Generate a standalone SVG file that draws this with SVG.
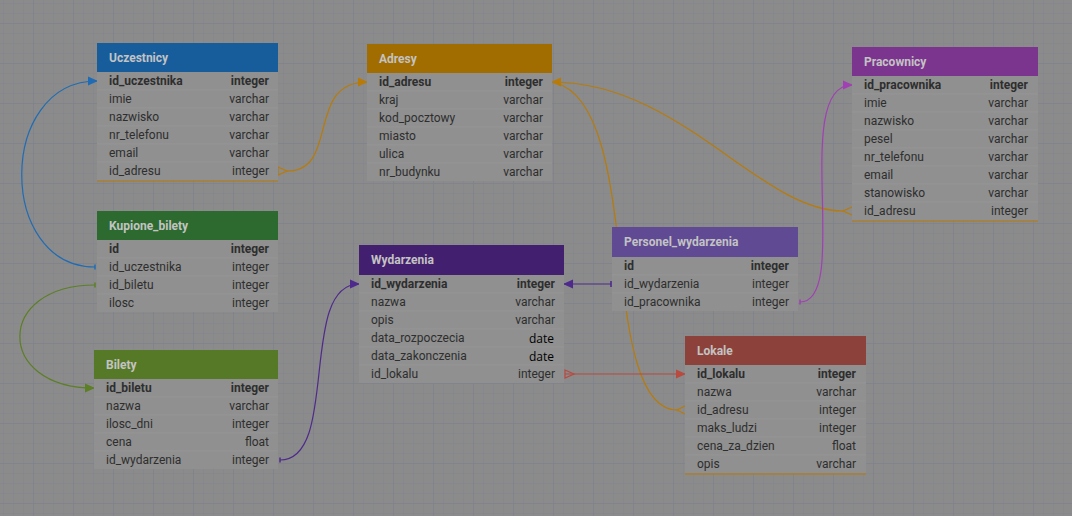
<svg xmlns="http://www.w3.org/2000/svg" width="1072" height="516" viewBox="0 0 1072 516">
<defs>
<pattern id="gmin" patternUnits="userSpaceOnUse" x="3" y="3" width="10" height="10">
<path d="M0 0V10M0 0H10" fill="none" stroke="#82858c" stroke-width="0.8"/>
</pattern>
<pattern id="gmaj" patternUnits="userSpaceOnUse" x="33" y="23" width="40" height="40">
<path d="M0 0V40M0 0H40" fill="none" stroke="#7b7f8a" stroke-width="1"/>
</pattern>
<marker id="aBlue" markerWidth="10" markerHeight="10" refX="9" refY="5" orient="auto" markerUnits="userSpaceOnUse"><path d="M0 0.5L10 5L0 9.5Z" fill="#1f6cb4"/></marker>
<marker id="aOr" markerWidth="10" markerHeight="10" refX="9" refY="5" orient="auto" markerUnits="userSpaceOnUse"><path d="M0 0.5L10 5L0 9.5Z" fill="#b87b08"/></marker>
<marker id="aGr" markerWidth="10" markerHeight="10" refX="9" refY="5" orient="auto" markerUnits="userSpaceOnUse"><path d="M0 0.5L10 5L0 9.5Z" fill="#5d7f25"/></marker>
<marker id="aPu" markerWidth="10" markerHeight="10" refX="9" refY="5" orient="auto" markerUnits="userSpaceOnUse"><path d="M0 0.5L10 5L0 9.5Z" fill="#4e2a8c"/></marker>
<marker id="aMa" markerWidth="10" markerHeight="10" refX="9" refY="5" orient="auto" markerUnits="userSpaceOnUse"><path d="M0 0.5L10 5L0 9.5Z" fill="#a23fb4"/></marker>
<marker id="aRe" markerWidth="10" markerHeight="10" refX="9" refY="5" orient="auto" markerUnits="userSpaceOnUse"><path d="M0 0.5L10 5L0 9.5Z" fill="#b84a40"/></marker>
<style>
.hd{font-family:Roboto,"Liberation Sans",sans-serif;font-size:12px;font-weight:bold;fill:#c3c3c3}
.nm{font-family:Roboto,"Liberation Sans",sans-serif;font-size:12px;fill:#2e2e2e}
.tp{font-family:Roboto,"Liberation Sans",sans-serif;font-size:12px;fill:#2e2e2e;text-anchor:end}
.pk{font-weight:bold}
.dt{font-family:"Open Sans","Liberation Sans",sans-serif;font-size:12px;fill:#000;text-anchor:end}
.body{fill:#909090}
.sep{stroke:#989898;stroke-width:0.8}
.bot{stroke:#b87b08;stroke-width:1}
.ln{fill:none;stroke-width:1.2}
</style>
</defs>
<rect width="1072" height="516" fill="#8b8b8b"/>
<rect width="1072" height="516" fill="url(#gmin)"/>
<rect width="1072" height="516" fill="url(#gmaj)"/>

<g id="connectors">
<!-- Kupione_bilety.id_uczestnika -> Uczestnicy.id_uczestnika -->
<path class="ln" stroke="#1f6cb4" d="M95 267C-3 267-3 81 97 81" marker-end="url(#aBlue)"/>
<path d="M95 264.5V269.5" stroke="#1f6cb4" stroke-width="1.5"/>
<!-- Kupione_bilety.id_biletu -> Bilety.id_biletu -->
<path class="ln" stroke="#5d7f25" d="M95 285C-5 285-5 388 94 388" marker-end="url(#aGr)"/>
<path d="M95 282.5V287.5" stroke="#5d7f25" stroke-width="1.5"/>
<!-- Uczestnicy.id_adresu -> Adresy.id_adresu -->
<path class="ln" stroke="#b87b08" d="M287 171C340 171 305 82 367 82" marker-end="url(#aOr)"/>
<path class="ln" stroke="#b87b08" d="M278 167L287 171L278 175Z"/>
<!-- Pracownicy.id_adresu -> Adresy.id_adresu -->
<path class="ln" stroke="#b87b08" d="M843 211C760 211 680 82 552 82" marker-end="url(#aOr)"/>
<path class="ln" stroke="#b87b08" d="M852 207L843 211L852 215"/>
<!-- Lokale.id_adresu -> Adresy.id_adresu -->
<path class="ln" stroke="#b87b08" d="M677 410C640 410 628 340 620 260C612 180 600 95 556 83"/>
<path class="ln" stroke="#b87b08" d="M685 406L677 410L685 414"/>
<!-- Bilety.id_wydarzenia -> Wydarzenia.id_wydarzenia -->
<path class="ln" stroke="#4e2a8c" d="M280 460C340 460 298 284 359 284" marker-end="url(#aPu)"/>
<path d="M280 457.5V462.5" stroke="#4e2a8c" stroke-width="1.5"/>
<!-- Personel_wydarzenia.id_wydarzenia -> Wydarzenia.id_wydarzenia -->
<path class="ln" stroke="#4e2a8c" stroke-width="1.6" d="M611 284H564" marker-end="url(#aPu)"/>
<path d="M611 281V287" stroke="#4e2a8c" stroke-width="1.6"/>
<!-- Personel_wydarzenia.id_pracownika -> Pracownicy.id_pracownika -->
<path class="ln" stroke="#a23fb4" d="M800 302C852 302 790 85 852 85" marker-end="url(#aMa)"/>
<path d="M800 299.5V304.5" stroke="#a23fb4" stroke-width="1.5"/>
<!-- Wydarzenia.id_lokalu -> Lokale.id_lokalu -->
<path class="ln" stroke="#b84a40" d="M565 374H685" marker-end="url(#aRe)"/>
<path class="ln" stroke="#b84a40" d="M565 370L574 374L565 378Z"/>
</g>

<g id="Uczestnicy">
<rect x="97" y="72" width="181" height="108" class="body"/>
<rect x="97" y="43" width="181" height="29" fill="#185d9b"/>
<text x="109" y="62" class="hd">Uczestnicy</text>
<g class="sep"><line x1="97" x2="278" y1="90" y2="90"/><line x1="97" x2="278" y1="108" y2="108"/><line x1="97" x2="278" y1="126" y2="126"/><line x1="97" x2="278" y1="144" y2="144"/><line x1="97" x2="278" y1="162" y2="162"/></g>
<line x1="97" x2="278" y1="181" y2="181" class="bot"/>
<text x="109" y="85" class="nm pk">id_uczestnika</text><text x="269" y="85" class="tp pk">integer</text>
<text x="109" y="103" class="nm">imie</text><text x="269" y="103" class="tp">varchar</text>
<text x="109" y="121" class="nm">nazwisko</text><text x="269" y="121" class="tp">varchar</text>
<text x="109" y="139" class="nm">nr_telefonu</text><text x="269" y="139" class="tp">varchar</text>
<text x="109" y="157" class="nm">email</text><text x="269" y="157" class="tp">varchar</text>
<text x="109" y="175" class="nm">id_adresu</text><text x="269" y="175" class="tp">integer</text>
</g>

<g id="Adresy">
<rect x="367" y="73" width="185" height="108" class="body"/>
<rect x="367" y="44" width="185" height="29" fill="#a16c00"/>
<text x="379" y="63" class="hd">Adresy</text>
<g class="sep"><line x1="367" x2="552" y1="91" y2="91"/><line x1="367" x2="552" y1="109" y2="109"/><line x1="367" x2="552" y1="127" y2="127"/><line x1="367" x2="552" y1="145" y2="145"/><line x1="367" x2="552" y1="163" y2="163"/></g>
<text x="379" y="86" class="nm pk">id_adresu</text><text x="543" y="86" class="tp pk">integer</text>
<text x="379" y="104" class="nm">kraj</text><text x="543" y="104" class="tp">varchar</text>
<text x="379" y="122" class="nm">kod_pocztowy</text><text x="543" y="122" class="tp">varchar</text>
<text x="379" y="140" class="nm">miasto</text><text x="543" y="140" class="tp">varchar</text>
<text x="379" y="158" class="nm">ulica</text><text x="543" y="158" class="tp">varchar</text>
<text x="379" y="176" class="nm">nr_budynku</text><text x="543" y="176" class="tp">varchar</text>
</g>

<g id="Pracownicy">
<rect x="852" y="76" width="186" height="144" class="body"/>
<rect x="852" y="47" width="186" height="29" fill="#7c358e"/>
<text x="864" y="66" class="hd">Pracownicy</text>
<g class="sep"><line x1="852" x2="1038" y1="94" y2="94"/><line x1="852" x2="1038" y1="112" y2="112"/><line x1="852" x2="1038" y1="130" y2="130"/><line x1="852" x2="1038" y1="148" y2="148"/><line x1="852" x2="1038" y1="166" y2="166"/><line x1="852" x2="1038" y1="184" y2="184"/><line x1="852" x2="1038" y1="202" y2="202"/></g>
<line x1="852" x2="1038" y1="221" y2="221" class="bot"/>
<text x="864" y="89" class="nm pk">id_pracownika</text><text x="1028" y="89" class="tp pk">integer</text>
<text x="864" y="107" class="nm">imie</text><text x="1028" y="107" class="tp">varchar</text>
<text x="864" y="125" class="nm">nazwisko</text><text x="1028" y="125" class="tp">varchar</text>
<text x="864" y="143" class="nm">pesel</text><text x="1028" y="143" class="tp">varchar</text>
<text x="864" y="161" class="nm">nr_telefonu</text><text x="1028" y="161" class="tp">varchar</text>
<text x="864" y="179" class="nm">email</text><text x="1028" y="179" class="tp">varchar</text>
<text x="864" y="197" class="nm">stanowisko</text><text x="1028" y="197" class="tp">varchar</text>
<text x="864" y="215" class="nm">id_adresu</text><text x="1028" y="215" class="tp">integer</text>
</g>

<g id="Kupione_bilety">
<rect x="97" y="240" width="181" height="72" class="body"/>
<rect x="97" y="211" width="181" height="29" fill="#2d6a30"/>
<text x="109" y="230" class="hd">Kupione_bilety</text>
<g class="sep"><line x1="97" x2="278" y1="258" y2="258"/><line x1="97" x2="278" y1="276" y2="276"/><line x1="97" x2="278" y1="294" y2="294"/></g>
<text x="109" y="253" class="nm pk">id</text><text x="269" y="253" class="tp pk">integer</text>
<text x="109" y="271" class="nm">id_uczestnika</text><text x="269" y="271" class="tp">integer</text>
<text x="109" y="289" class="nm">id_biletu</text><text x="269" y="289" class="tp">integer</text>
<text x="109" y="307" class="nm">ilosc</text><text x="269" y="307" class="tp">integer</text>
</g>

<g id="Bilety">
<rect x="94" y="379" width="184" height="90" class="body"/>
<rect x="94" y="350" width="184" height="29" fill="#557927"/>
<text x="106" y="369" class="hd">Bilety</text>
<g class="sep"><line x1="94" x2="278" y1="397" y2="397"/><line x1="94" x2="278" y1="415" y2="415"/><line x1="94" x2="278" y1="433" y2="433"/><line x1="94" x2="278" y1="451" y2="451"/></g>
<text x="106" y="392" class="nm pk">id_biletu</text><text x="269" y="392" class="tp pk">integer</text>
<text x="106" y="410" class="nm">nazwa</text><text x="269" y="410" class="tp">varchar</text>
<text x="106" y="428" class="nm">ilosc_dni</text><text x="269" y="428" class="tp">integer</text>
<text x="106" y="446" class="nm">cena</text><text x="269" y="446" class="tp">float</text>
<text x="106" y="464" class="nm">id_wydarzenia</text><text x="269" y="464" class="tp">integer</text>
</g>

<g id="Wydarzenia">
<rect x="359" y="275" width="205" height="108" class="body"/>
<rect x="359" y="245" width="205" height="30" fill="#43206f"/>
<text x="371" y="264" class="hd">Wydarzenia</text>
<g class="sep"><line x1="359" x2="564" y1="293" y2="293"/><line x1="359" x2="564" y1="311" y2="311"/><line x1="359" x2="564" y1="329" y2="329"/><line x1="359" x2="564" y1="347" y2="347"/><line x1="359" x2="564" y1="365" y2="365"/></g>
<text x="371" y="288" class="nm pk">id_wydarzenia</text><text x="555" y="288" class="tp pk">integer</text>
<text x="371" y="306" class="nm">nazwa</text><text x="555" y="306" class="tp">varchar</text>
<text x="371" y="324" class="nm">opis</text><text x="555" y="324" class="tp">varchar</text>
<text x="371" y="342" class="nm">data_rozpoczecia</text><text x="554" y="343" class="dt">date</text>
<text x="371" y="360" class="nm">data_zakonczenia</text><text x="554" y="361" class="dt">date</text>
<text x="371" y="378" class="nm">id_lokalu</text><text x="555" y="378" class="tp">integer</text>
</g>

<g id="Personel_wydarzenia">
<rect x="612" y="257" width="186" height="54" class="body"/>
<rect x="612" y="227" width="186" height="30" fill="#604a93"/>
<text x="624" y="246" class="hd">Personel_wydarzenia</text>
<g class="sep"><line x1="612" x2="798" y1="275" y2="275"/><line x1="612" x2="798" y1="293" y2="293"/></g>
<text x="624" y="270" class="nm pk">id</text><text x="789" y="270" class="tp pk">integer</text>
<text x="624" y="288" class="nm">id_wydarzenia</text><text x="789" y="288" class="tp">integer</text>
<text x="624" y="306" class="nm">id_pracownika</text><text x="789" y="306" class="tp">integer</text>
</g>

<g id="Lokale">
<rect x="685" y="365" width="181" height="108" class="body"/>
<rect x="685" y="336" width="181" height="29" fill="#8c423a"/>
<text x="697" y="355" class="hd">Lokale</text>
<g class="sep"><line x1="685" x2="866" y1="383" y2="383"/><line x1="685" x2="866" y1="401" y2="401"/><line x1="685" x2="866" y1="419" y2="419"/><line x1="685" x2="866" y1="437" y2="437"/><line x1="685" x2="866" y1="455" y2="455"/></g>
<line x1="685" x2="866" y1="474" y2="474" class="bot"/>
<text x="697" y="378" class="nm pk">id_lokalu</text><text x="856" y="378" class="tp pk">integer</text>
<text x="697" y="396" class="nm">nazwa</text><text x="856" y="396" class="tp">varchar</text>
<text x="697" y="414" class="nm">id_adresu</text><text x="856" y="414" class="tp">integer</text>
<text x="697" y="432" class="nm">maks_ludzi</text><text x="856" y="432" class="tp">integer</text>
<text x="697" y="450" class="nm">cena_za_dzien</text><text x="856" y="450" class="tp">float</text>
<text x="697" y="468" class="nm">opis</text><text x="856" y="468" class="tp">varchar</text>
</g>
</svg>
